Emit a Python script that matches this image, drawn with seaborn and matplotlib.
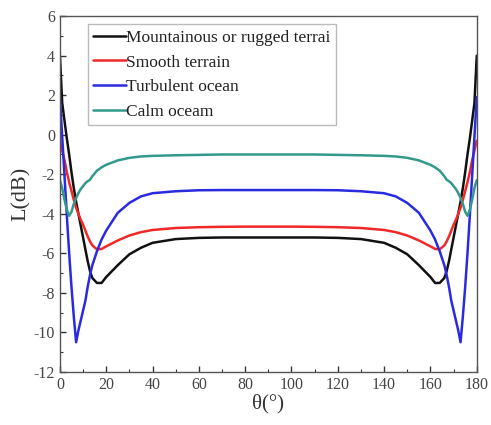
import matplotlib
matplotlib.use("Agg")
import matplotlib.pyplot as plt
import seaborn as sns
import pandas as pd
from matplotlib.ticker import MultipleLocator

theta = [0, 1, 2, 3, 4, 5, 6, 7, 8, 9, 10, 11, 12, 13, 14, 16, 18, 20, 25, 30, 35, 40, 50, 60, 70, 80,
         90,
         100, 110, 120, 130, 140, 145, 150, 155, 160, 162, 164, 166, 167, 168, 169, 170, 171, 172, 173,
         174, 175, 176, 177, 178, 179, 180]

mountainous = [4.0, 1.6, 0.7, -0.2, -1.0, -1.9, -2.7, -3.4, -4.0, -4.6, -5.2, -5.8, -6.4, -6.9, -7.25,
               -7.5, -7.5, -7.2, -6.6, -6.05, -5.72, -5.47, -5.28, -5.22, -5.2, -5.2,
               -5.2,
               -5.2, -5.2, -5.22, -5.28, -5.47, -5.72, -6.05, -6.6, -7.2, -7.5, -7.5, -7.25, -6.9,
               -6.4, -5.8, -5.2, -4.6, -4.0, -3.4, -2.7, -1.9, -1.0, -0.2, 0.7, 1.6, 4.0]

smooth = [-0.3, -0.8, -1.3, -1.9, -2.4, -2.85, -3.3, -3.7, -4.0, -4.3, -4.55, -4.85, -5.15, -5.4, -5.6,
          -5.8, -5.78, -5.65, -5.35, -5.1, -4.93, -4.82, -4.72, -4.68, -4.66, -4.65,
          -4.65,
          -4.65, -4.66, -4.68, -4.72, -4.82, -4.93, -5.1, -5.35, -5.65, -5.78, -5.8, -5.6, -5.4,
          -5.15, -4.85, -4.55, -4.3, -4.0, -3.7, -3.3, -2.85, -2.4, -1.9, -1.3, -0.8, -0.3]

turbulent = [1.9, -0.1, -2.1, -4.1, -6.0, -7.7, -9.2, -10.5, -9.9, -9.4, -8.9, -8.4, -7.7, -7.1, -6.6,
             -5.9, -5.3, -4.85, -3.95, -3.45, -3.12, -2.96, -2.86, -2.81, -2.8, -2.8,
             -2.8,
             -2.8, -2.8, -2.81, -2.86, -2.96, -3.12, -3.45, -3.95, -4.85, -5.3, -5.9, -6.6, -7.1,
             -7.7, -8.4, -8.9, -9.4, -9.9, -10.5, -9.2, -7.7, -6.0, -4.1, -2.1, -0.1, 1.9]

calm = [-2.3, -2.7, -3.3, -3.8, -4.1, -3.9, -3.5, -3.2, -2.95, -2.75, -2.6, -2.45, -2.35, -2.28, -2.1,
        -1.82, -1.65, -1.52, -1.3, -1.17, -1.1, -1.07, -1.04, -1.02, -1.0, -1.0,
        -1.0,
        -1.0, -1.0, -1.02, -1.04, -1.07, -1.1, -1.17, -1.3, -1.52, -1.65, -1.82, -2.1, -2.28,
        -2.35, -2.45, -2.6, -2.75, -2.95, -3.2, -3.5, -3.9, -4.1, -3.8, -3.3, -2.7, -2.3]

labels = ["Mountainous or rugged terrai", "Smooth terrain", "Turbulent ocean", "Calm oceam"]
colors = ["#111111", "#f02828", "#2a2ae0", "#33998a"]
x_ticks = [0, 20, 40, 60, 80, 100, 120, 140, 160, 180]
y_ticks = [6, 4, 2, 0, -2, -4, -6, -8, -10, -12]

sns.set_style("ticks")
plt.rcParams["font.family"] = ["Liberation Serif", "DejaVu Serif"]
plt.rcParams["axes.unicode_minus"] = False

fig = plt.figure(figsize=(4.91, 4.25), dpi=100)
ax = fig.add_axes([0.122, 0.125, 0.849, 0.837])

series = [mountainous, smooth, turbulent, calm]
for vals, lab, col in zip(series, labels, colors):
    df = pd.DataFrame({"theta": theta, "L": vals})
    sns.lineplot(data=df, x="theta", y="L", ax=ax, color=col, linewidth=1.8, label=lab)

ax.set_xlim(0, 180)
ax.set_ylim(-12, 6)
ax.set_xticks(x_ticks)
ax.set_yticks(y_ticks)
ax.xaxis.set_minor_locator(MultipleLocator(10))
ax.yaxis.set_minor_locator(MultipleLocator(1))
ax.tick_params(axis="both", which="major", direction="in", length=4, width=1,
               labelsize=11.5, colors="#333333", labelcolor="#444444")
ax.tick_params(axis="both", which="minor", direction="in", length=2.5, width=0.8, colors="#333333")
ax.tick_params(top=False, right=False, which="both")
for sp in ax.spines.values():
    sp.set_visible(True)
    sp.set_color("#555555")
    sp.set_linewidth(1.0)

ax.set_xlabel("θ(°)", fontsize=15, color="#333333", labelpad=1)
ax.set_ylabel("L(dB)", fontsize=16, color="#333333", labelpad=2)

leg = ax.legend(loc="upper left", bbox_to_anchor=(0.067, 0.977), fontsize=12.5,
                handlelength=1.9, handletextpad=0.0, labelspacing=0.5, borderpad=0.3,
                borderaxespad=0.0, fancybox=False, frameon=True)
leg.get_frame().set_edgecolor("#aaaaaa")
leg.get_frame().set_linewidth(1.0)
for t in leg.get_texts():
    t.set_color("#222222")

fig.savefig("out.png", dpi=100)
